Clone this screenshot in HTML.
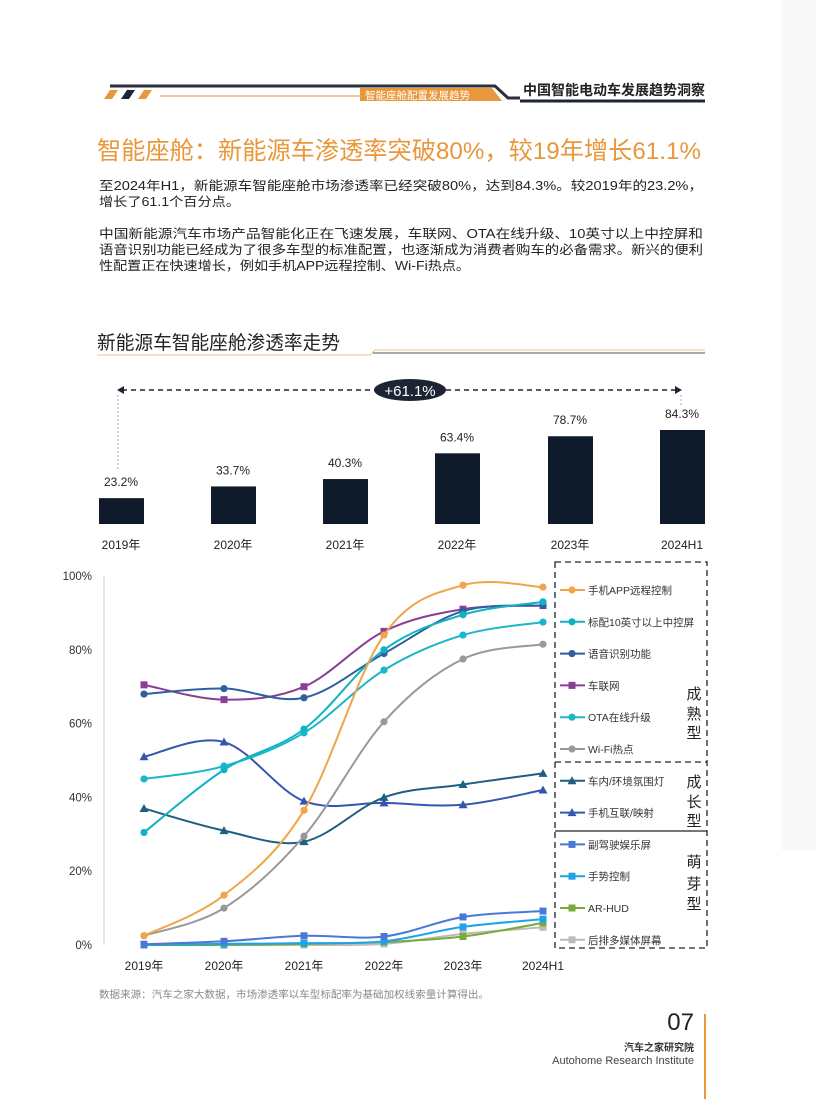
<!DOCTYPE html>
<html><head><meta charset="utf-8">
<style>
html,body{margin:0;padding:0;background:#fff;}
body{width:816px;height:1099px;overflow:hidden;position:relative;font-family:"Liberation Sans","Noto Sans CJK SC",sans-serif;}
svg text{font-family:"Liberation Sans","Noto Sans CJK SC",sans-serif;}
</style></head><body>
<svg id="s" width="816" height="1099" viewBox="0 0 816 1099" xmlns="http://www.w3.org/2000/svg">
<rect x="782" y="0" width="34" height="850" fill="#f8f8f8"/>
<!-- header -->
<path d="M110 86 H495 L508 98 H520" stroke="#2b2f38" stroke-width="3" fill="none"/>
<polygon points="104,99 110,90 118,90 112,99" fill="#e8973a"/>
<polygon points="121,99 127,90 135,90 129,99" fill="#1d2433"/>
<polygon points="138,99 144,90 152,90 146,99" fill="#e8973a"/>
<line x1="160" y1="96" x2="360" y2="96" stroke="#e8973a" stroke-width="1"/>
<polygon points="360,88 492,88 502,101 360,101" fill="#e8973a"/>
<text x="365" y="99" font-size="10.5" fill="#fff">智能座舱配置发展趋势</text>
<text x="523" y="95" font-size="14" font-weight="bold" fill="#222" textLength="182" lengthAdjust="spacingAndGlyphs">中国智能电动车发展趋势洞察</text>
<line x1="520" y1="101" x2="705" y2="101" stroke="#1d2433" stroke-width="3"/>
<text x="97" y="159" font-size="24.5" fill="#e8973a" textLength="604" lengthAdjust="spacingAndGlyphs">智能座舱：新能源车渗透率突破80%，较19年增长61.1%</text>
<g font-size="12.6" fill="#222">
<text x="99" y="190" textLength="604" lengthAdjust="spacingAndGlyphs">至2024年H1，新能源车智能座舱市场渗透率已经突破80%，达到84.3%。较2019年的23.2%，</text>
<text x="99" y="206" textLength="141" lengthAdjust="spacingAndGlyphs">增长了61.1个百分点。</text>
<text x="99" y="238" textLength="604" lengthAdjust="spacingAndGlyphs">中国新能源汽车市场产品智能化正在飞速发展，车联网、OTA在线升级、10英寸以上中控屏和</text>
<text x="99" y="254" textLength="604" lengthAdjust="spacingAndGlyphs">语音识别功能已经成为了很多车型的标准配置，也逐渐成为消费者购车的必备需求。新兴的便利</text>
<text x="99" y="270" textLength="371" lengthAdjust="spacingAndGlyphs">性配置正在快速增长，例如手机APP远程控制、Wi-Fi热点。</text>
</g>
<text x="97" y="349" font-size="19" fill="#222" textLength="243" lengthAdjust="spacingAndGlyphs">新能源车智能座舱渗透率走势</text>
<path d="M97 355 H370 L375 350 H705" stroke="#e0c98a" stroke-width="1" fill="none"/>
<line x1="373" y1="353" x2="705" y2="353" stroke="#555" stroke-width="1"/>
<!-- bar chart -->
<line x1="122" y1="390" x2="376" y2="390" stroke="#1d2433" stroke-width="1.5" stroke-dasharray="5,4"/>
<line x1="446" y1="390" x2="676" y2="390" stroke="#1d2433" stroke-width="1.5" stroke-dasharray="5,4"/>
<polygon points="117,390 124,386 124,394" fill="#1d2433"/>
<polygon points="682,390 675,386 675,394" fill="#1d2433"/>
<line x1="118" y1="395" x2="118" y2="470" stroke="#aaa" stroke-dasharray="2,2"/>
<line x1="681" y1="395" x2="681" y2="405" stroke="#aaa" stroke-dasharray="2,2"/>
<ellipse cx="410" cy="390" rx="36" ry="11" fill="#1d2433"/>
<text x="410" y="396" font-size="15" fill="#fff" text-anchor="middle">+61.1%</text>
<g id="bars"></g>
<g id="lc"></g>
<!-- footer -->
<text x="99" y="998" font-size="10" fill="#888" textLength="390" lengthAdjust="spacingAndGlyphs">数据来源：汽车之家大数据，市场渗透率以车型标配率为基础加权线索量计算得出。</text>
<line x1="705" y1="1014" x2="705" y2="1099" stroke="#e8973a" stroke-width="2"/>
<text x="694" y="1030" font-size="24" fill="#222" text-anchor="end">07</text>
<text x="694" y="1051" font-size="10" font-weight="bold" fill="#333" text-anchor="end">汽车之家研究院</text>
<text x="694" y="1064" font-size="11" fill="#444" text-anchor="end">Autohome Research Institute</text>
</svg>
<script>
var NS="http://www.w3.org/2000/svg";
function el(p,t,a,txt){var e=document.createElementNS(NS,t);for(var k in a)e.setAttribute(k,a[k]);if(txt!=null)e.textContent=txt;p.appendChild(e);return e;}
var bars=document.getElementById('bars');
var bx=[121,233,345,457,570,682],bv=[23.2,33.7,40.3,63.4,78.7,84.3],bl=['2019年','2020年','2021年','2022年','2023年','2024H1'];
for(var i=0;i<6;i++){var h=bv[i]*1.115;el(bars,'rect',{x:bx[i]-22,y:524-h,width:45,height:h,fill:'#0f1a2b'});
el(bars,'text',{x:bx[i],y:524-h-12,'font-size':12,fill:'#222','text-anchor':'middle'},bv[i].toFixed(1)+'%');
el(bars,'text',{x:bx[i],y:549,'font-size':12,fill:'#222','text-anchor':'middle'},bl[i]);}
var lc=document.getElementById('lc');
function Y(v){return 945-v*3.69;}
var X=[144,224,304,384,463,543];
el(lc,'line',{x1:104,y1:576,x2:104,y2:945,stroke:'#ccc'});
[0,20,40,60,80,100].forEach(function(v){el(lc,'text',{x:92,y:Y(v)+4,'font-size':11.5,fill:'#333','text-anchor':'end'},v+'%');});
bl.forEach(function(l,i){el(lc,'text',{x:X[i],y:970,'font-size':12,fill:'#222','text-anchor':'middle'},l);});
var S=[
['#f0a54a','o',[2.5,13.5,36.5,84,97.5,97]],
['#f0a54a','o',[2.5,13.5,36.5,84,97.5,97]],
['#10b3c4','o',[30.5,47.5,58.5,80,89.5,93]],
['#2e5f9e','o',[68,69.5,67,79,90.5,92]],
['#8a3f96','s',[70.5,66.5,70,85,91,92]],
['#1ab6c9','o',[45,48.5,57.5,74.5,84,87.5]],
['#999','o',[2.5,10,29.5,60.5,77.5,81.5]],
['#1f5f82','t',[37,31,28,40,43.5,46.5]],
['#3456b0','t',[51,55,39,38.5,38,42]],
['#4a78d6','s',[0.2,1,2.5,2.3,7.6,9.2]],
['#1ea3e6','s',[0,0.3,0.5,1,4.9,7]],
['#7aaa3a','s',[0,0,0.3,0.8,2.3,6]],
['#bbb','s',[0,0,0,0.3,3,4.8]]];
function path(v){var p=v.map(function(d,i){return [X[i],Y(d)];});var s='M'+p[0][0]+' '+p[0][1];
for(var i=0;i<p.length-1;i++){var p0=p[i-1]||p[i],p1=p[i],p2=p[i+1],p3=p[i+2]||p2;var t=0.17;
s+=' C'+(p1[0]+(p2[0]-p0[0])*t)+' '+(p1[1]+(p2[1]-p0[1])*t)+' '+(p2[0]-(p3[0]-p1[0])*t)+' '+(p2[1]-(p3[1]-p1[1])*t)+' '+p2[0]+' '+p2[1];}return s;}
function mk(g,m,x,y,c){if(m=='o')el(g,'circle',{cx:x,cy:y,r:3.6,fill:c});else if(m=='s')el(g,'rect',{x:x-3.5,y:y-3.5,width:7,height:7,fill:c});else el(g,'polygon',{points:(x)+','+(y-4.5)+' '+(x-4.5)+','+(y+3.5)+' '+(x+4.5)+','+(y+3.5),fill:c});}
for(var k=S.length-1;k>=1;k--){var s=S[k];el(lc,'path',{d:path(s[2]),stroke:s[0],'stroke-width':2,fill:'none'});s[2].forEach(function(v,i){mk(lc,s[1],X[i],Y(v),s[0]);});}
el(lc,'rect',{x:555,y:562,width:152,height:386,fill:'none',stroke:'#1d2433','stroke-width':1.3,'stroke-dasharray':'6,4'});
el(lc,'line',{x1:555,y1:762,x2:707,y2:762,stroke:'#1d2433','stroke-width':1.3,'stroke-dasharray':'6,4'});
el(lc,'line',{x1:555,y1:831,x2:707,y2:831,stroke:'#1d2433','stroke-width':1.3});
var L=[['手机APP远程控制',1],['标配10英寸以上中控屏',2],['语音识别功能',3],['车联网',4],['OTA在线升级',5],['Wi-Fi热点',6],['车内/环境氛围灯',7],['手机互联/映射',8],['副驾驶娱乐屏',9],['手势控制',10],['AR-HUD',11],['后排多媒体屏幕',12]];
L.forEach(function(l,i){var y=590+i*31.8;var s=S[l[1]];el(lc,'line',{x1:560,y1:y,x2:585,y2:y,stroke:s[0],'stroke-width':2});mk(lc,s[1],572,y,s[0]);
el(lc,'text',{x:588,y:y+4,'font-size':10.5,fill:'#333'},l[0]);});
[['成',693],['熟',713],['型',732],['成',781],['长',801],['型',820],['萌',861],['芽',883],['型',903]].forEach(function(a){el(lc,'text',{x:694,y:a[1]+6,'font-size':15,fill:'#222','text-anchor':'middle'},a[0]);});
</script>
</body></html>
